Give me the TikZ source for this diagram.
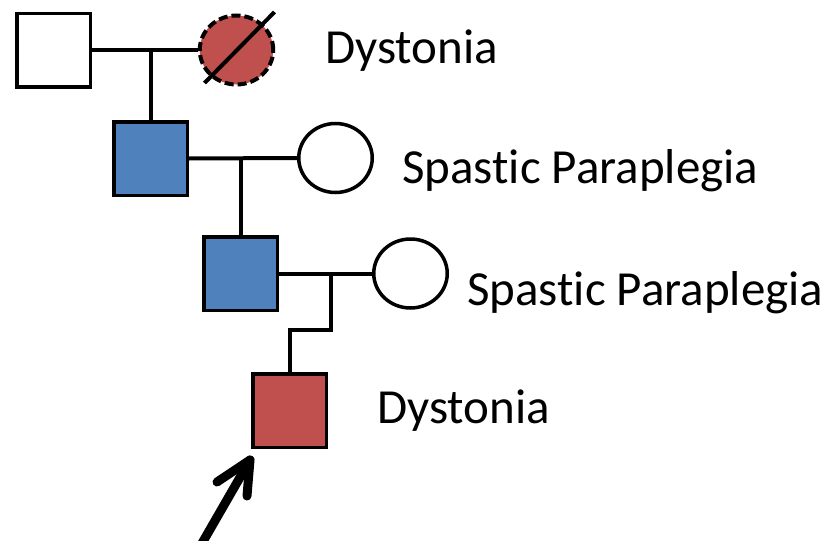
\documentclass[tikz,border=0pt]{standalone}
\usepackage{fontspec}
\setmainfont{Carlito}[RawFeature={-liga;-clig;-dlig}]
\usetikzlibrary{shapes.geometric,calc}
\definecolor{affred}{RGB}{192,80,77}
\definecolor{affblue}{RGB}{79,129,189}
\begin{document}
\begin{tikzpicture}[x=1pt,y=-1pt,
  male/.style={draw=black,line width=3.5pt,rectangle,minimum width=73.5pt,minimum height=73.5pt,inner sep=0pt},
  female/.style={draw=black,line width=3.5pt,ellipse,minimum width=73.5pt,minimum height=69pt,inner sep=0pt},
  deceased/.style={line width=4pt,dash pattern=on 9pt off 4pt},
  conn/.style={line width=4pt},
  lbl/.style={anchor=base west,inner sep=0pt,font=\fontsize{49}{54}\selectfont},
  pointer/.style={line width=9pt,line cap=round,line join=round}]
\useasboundingbox (0,0) rectangle (831,541);
% generation I
\node[male,fill=white] (sq1) at (53.5,50) {};
\node[female,deceased,fill=affred] (c1) at (236.5,50) {};
\draw[conn] ($(c1.center)+(-32,33)$) -- ($(c1.center)+(38,-38)$);
% generation II
\node[male,fill=affblue] (sq2) at (150.5,158.5) {};
\node[female,fill=white] (c2) at (335.5,158) {};
% generation III
\node[male,fill=affblue] (sq3) at (240.5,273.5) {};
\node[female,fill=white] (c3) at (410.5,273.5) {};
% generation IV
\node[male,fill=affred] (sq4) at (289.5,410.5) {};
% connectors
\coordinate (m1) at (150.5,50);
\coordinate (m2) at (240.5,158);
\coordinate (m3) at (331,273.5);
\draw[conn] (sq1.east) -- (c1.west);
\draw[conn] (m1) -- (sq2.north);
\draw[conn] (sq2.east) -- (c2.west);
\draw[conn] (m2) -- (sq3.north);
\draw[conn] (sq3.east) -- (c3.west);
\draw[conn] (m3) -- ++(0,56) -| (sq4.north);
% labels
\node[lbl] (t1) at (325,63) {Dystonia};
\node[lbl] (t2) at (402,183) {Spastic Paraplegia};
\node[lbl] (t3) at (467,305) {Spastic Paraplegia};
\node[lbl] (t4) at (377,423) {Dystonia};
% proband arrow
\coordinate (tip) at (250,460);
\coordinate (tail) at (201,545);
\coordinate (barbA) at (217,482);
\coordinate (barbB) at (247,496);
\draw[pointer] (tail) -- (tip);
\draw[pointer] (barbA) -- (tip) -- (barbB);
\end{tikzpicture}
\end{document}
